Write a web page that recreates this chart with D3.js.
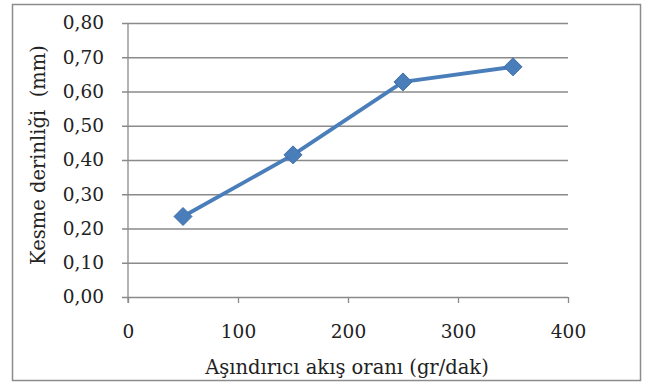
<!DOCTYPE html>
<html>
<head>
<meta charset="utf-8">
<script src="https://cdn.jsdelivr.net/npm/d3@7"></script>
<style>
  body { margin: 0; background: #fff; }
  svg { display: block; }
  text { font-family: "DejaVu Serif", "Liberation Serif", serif; fill: #222; }
</style>
</head>
<body>
<svg width="649" height="385"></svg>
<script>
const svg = d3.select('svg');
const width = +svg.attr('width');
const height = +svg.attr('height');

// data
const flowRate = [50, 150, 250, 350];
const cutDepth = [0.235, 0.415, 0.628, 0.672];
const xTicks = [0, 100, 200, 300, 400];
const yTicks = [0, 0.1, 0.2, 0.3, 0.4, 0.5, 0.6, 0.7, 0.8];
const xTitle = 'Aşındırıcı akış oranı (gr/dak)';
const yTitle = 'Kesme derinliği  (mm)';

const margin = {top: 23, right: 81, bottom: 88, left: 128};
const innerW = width - margin.left - margin.right;
const innerH = height - margin.top - margin.bottom;
const fs = 18.5;   // tick labels
const tfs = 19.5;  // axis titles

// outer frame
svg.append('rect')
  .attr('x', 12.5).attr('y', 4.5)
  .attr('width', 628).attr('height', 376)
  .attr('fill', '#fff')
  .attr('stroke', '#8c8c8c')
  .attr('stroke-width', 1.5);

const g = svg.append('g')
  .attr('transform', `translate(${margin.left},${margin.top})`);

const x = d3.scaleLinear().domain([0, 400]).range([0, innerW]);
const y = d3.scaleLinear().domain([0, 0.8]).range([innerH, 0]);

const comma = d => d3.format('.2f')(d).replace('.', ',');

// y axis with gridlines
const yAxis = g.append('g')
  .call(d3.axisLeft(y).tickValues(yTicks).tickSize(-innerW).tickPadding(0).tickFormat(comma));
yAxis.select('.domain').remove();
yAxis.selectAll('.tick line')
  .attr('x1', -6)
  .attr('stroke', '#8a8a8a')
  .attr('stroke-width', 1.3);
yAxis.selectAll('.tick text')
  .attr('x', -24)
  .attr('font-size', fs)
  .attr('font-family', '"DejaVu Serif", serif')
  .attr('fill', '#333');

// x axis
const xAxis = g.append('g')
  .attr('transform', `translate(0,${innerH})`)
  .call(d3.axisBottom(x).tickValues(xTicks).tickSize(6).tickFormat(d3.format('d')));
xAxis.select('.domain').remove();
xAxis.selectAll('.tick line').attr('stroke', '#8a8a8a').attr('stroke-width', 1.3);
xAxis.selectAll('.tick text')
  .attr('y', 28)
  .attr('font-size', fs)
  .attr('font-family', '"DejaVu Serif", serif')
  .attr('fill', '#333');

// vertical axis line
g.append('line')
  .attr('x1', 0).attr('x2', 0)
  .attr('y1', y(0.8)).attr('y2', innerH + 6)
  .attr('stroke', '#8a8a8a')
  .attr('stroke-width', 1.3);

// series
const pts = flowRate.map((v, i) => [v, cutDepth[i]]);
g.append('path')
  .datum(pts)
  .attr('fill', 'none')
  .attr('stroke', '#4a7ebb')
  .attr('stroke-width', 3.8)
  .attr('stroke-linejoin', 'round')
  .attr('d', d3.line().x(d => x(d[0])).y(d => y(d[1])));

g.selectAll('.mk')
  .data(pts)
  .join('path')
  .attr('class', 'mk')
  .attr('transform', d => `translate(${x(d[0])},${y(d[1])})`)
  .attr('d', 'M0,-9L9,0L0,9L-9,0Z')
  .attr('fill', '#4a7ebb')
  .attr('stroke', '#3e6fa8')
  .attr('stroke-width', 1);

// titles
svg.append('text')
  .attr('x', 347)
  .attr('y', 374)
  .attr('text-anchor', 'middle')
  .attr('font-size', tfs)
  .text(xTitle);

svg.append('text')
  .attr('transform', 'translate(45,155) rotate(-90)')
  .attr('text-anchor', 'middle')
  .attr('font-size', tfs)
  .style('white-space', 'pre')
  .text(yTitle);
</script>
</body>
</html>
